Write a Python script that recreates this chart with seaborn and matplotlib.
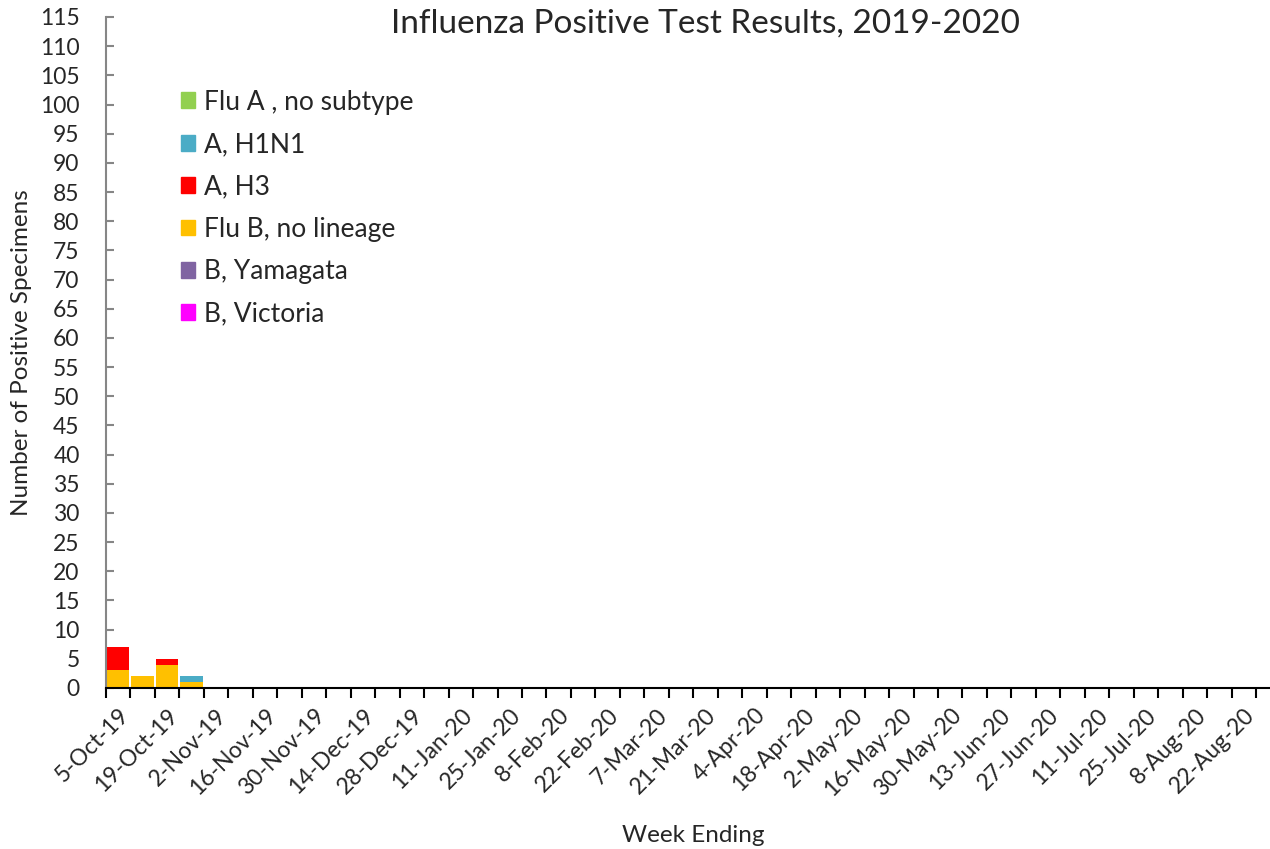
import matplotlib
matplotlib.use("Agg")
import matplotlib.pyplot as plt
import matplotlib.patches as mpatches
import numpy as np
import pandas as pd
import seaborn as sns

# ---------------- datos ----------------
semanas = ["5-Oct-19", "12-Oct-19", "19-Oct-19", "26-Oct-19", "2-Nov-19", "9-Nov-19",
           "16-Nov-19", "23-Nov-19", "30-Nov-19", "7-Dec-19", "14-Dec-19", "21-Dec-19",
           "28-Dec-19", "4-Jan-20", "11-Jan-20", "18-Jan-20", "25-Jan-20", "1-Feb-20",
           "8-Feb-20", "15-Feb-20", "22-Feb-20", "29-Feb-20", "7-Mar-20", "14-Mar-20",
           "21-Mar-20", "28-Mar-20", "4-Apr-20", "11-Apr-20", "18-Apr-20", "25-Apr-20",
           "2-May-20", "9-May-20", "16-May-20", "23-May-20", "30-May-20", "6-Jun-20",
           "13-Jun-20", "20-Jun-20", "27-Jun-20", "4-Jul-20", "11-Jul-20", "18-Jul-20",
           "25-Jul-20", "1-Aug-20", "8-Aug-20", "15-Aug-20", "22-Aug-20", "29-Aug-20"]
n = len(semanas)

flu_b_sin_linaje = [3, 2, 4, 1] + [0] * (n - 4)
b_yamagata = [0] * n
b_victoria = [0] * n
flu_a_sin_subtipo = [0] * n
a_h1n1 = [0, 0, 0, 1] + [0] * (n - 4)
a_h3 = [4, 0, 1, 0] + [0] * (n - 4)

# orden de apilado (abajo -> arriba)
series = [
    ("Flu B, no lineage", flu_b_sin_linaje, "#FFC000"),
    ("B, Yamagata", b_yamagata, "#8064A2"),
    ("B, Victoria", b_victoria, "#FF00FF"),
    ("Flu A , no subtype", flu_a_sin_subtipo, "#92D050"),
    ("A, H1N1", a_h1n1, "#4BACC6"),
    ("A, H3", a_h3, "#FF0000"),
]
orden_leyenda = ["Flu A , no subtype", "A, H1N1", "A, H3",
                 "Flu B, no lineage", "B, Yamagata", "B, Victoria"]

# ---------------- grafica ----------------
sns.set_style("white")
plt.rcParams['font.family'] = ['Lato', 'DejaVu Sans']

fig = plt.figure(figsize=(12.7, 8.49), dpi=100)
ax = fig.add_axes([106 / 1270, 161 / 849, 1174.6 / 1270, 671 / 849])

df = pd.DataFrame({"Semana": semanas})
base = np.zeros(n)
colores = {}
for nombre, valores, color in series:
    df[nombre] = valores
    sns.barplot(data=df, x="Semana", y=nombre, color=color, bottom=base, width=0.92,
                saturation=1, linewidth=0, ax=ax, order=semanas)
    base = base + np.array(valores)
    colores[nombre] = color

ax.set_xlim(-0.5, n - 0.5)
ax.set_ylim(0, 115)
ax.set_yticks(np.arange(0, 116, 5))
ax.tick_params(axis="y", labelsize=16.5, length=6, width=1.5, color="#868686",
               left=True, direction="in", pad=19)

ax.set_xticks(range(0, n - 1, 2))
ax.set_xticklabels(semanas[0:n - 1:2], rotation=45, ha="right",
                   rotation_mode="anchor", fontsize=16.5)
ax.tick_params(axis="x", which="major", length=0, pad=12)
ax.set_xticks(np.arange(-0.5, n, 1), minor=True)
ax.tick_params(axis="x", which="minor", length=7, width=1.5, color="black",
               bottom=True)

for lado in ["top", "right"]:
    ax.spines[lado].set_visible(False)
ax.spines["left"].set_color("#868686")
ax.spines["left"].set_linewidth(1.5)
ax.spines["bottom"].set_color("black")
ax.spines["bottom"].set_linewidth(1.5)

ax.set_xlabel("")
ax.set_ylabel("")
fig.text(22 / 1270, 1 - 353 / 849, "Number of Positive Specimens", rotation=90,
         ha="center", va="center", fontsize=17.5)
fig.text(693 / 1270, 1 - 836 / 849, "Week Ending", ha="center", va="center", fontsize=17.5)
fig.text(705 / 1270, 1 - 24 / 849, "Influenza Positive Test Results, 2019-2020",
         ha="center", va="center", fontsize=24)

handles = [mpatches.Patch(color=colores[k], label=k) for k in orden_leyenda]
fig.legend(handles=handles, loc="upper left", bbox_to_anchor=(170 / 1270, 1 - 79 / 849),
           borderaxespad=0, frameon=False, fontsize=19, handlelength=0.55,
           handleheight=0.55, handletextpad=0.35, labelspacing=0.66)

plt.savefig("out.png", dpi=100)
